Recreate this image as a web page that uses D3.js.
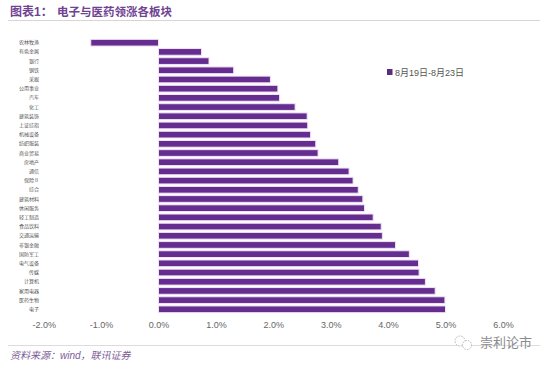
<!DOCTYPE html>
<html>
<head>
<meta charset="utf-8">
<script src="https://cdn.jsdelivr.net/npm/d3@7"></script>
<style>
    html, body { margin: 0; padding: 0; background: #fff; }
    svg { display: block; }
    text { font-family: "Liberation Sans", "Noto Sans CJK SC", sans-serif; }
</style>
</head>
<body>
<svg id="chart" width="550" height="367"></svg>
<script>
// values, top bar first
const sectors = [
    '农林牧渔', '有色金属', '银行', '钢铁', '采掘', '公用事业', '汽车', '化工',
    '建筑装饰', '上证综指', '机械设备', '纺织服装', '商业贸易', '房地产', '通信',
    '保险Ⅱ', '综合', '建筑材料', '休闲服务', '轻工制造', '食品饮料', '交通运输',
    '非银金融', '国防军工', '电气设备', '传媒', '计算机', '家用电器', '医药生物', '电子'
];
const changes = [
    -1.18, 0.75, 0.88, 1.31, 1.95, 2.08, 2.11, 2.38,
    2.59, 2.60, 2.65, 2.74, 2.78, 3.14, 3.32,
    3.39, 3.48, 3.56, 3.59, 3.74, 3.88, 3.90,
    4.13, 4.37, 4.53, 4.54, 4.65, 4.82, 4.99, 5.00
];
const xTicks = [-2, -1, 0, 1, 2, 3, 4, 5, 6];
const legendLabel = '8月19日-8月23日';

const svg = d3.select('#chart');
const purple = '#652d90';

const x = d3.scaleLinear().domain([-2, 6]).range([43.7, 502.9]);
const y = d3.scaleBand().domain(sectors).range([38.1, 313.9]).paddingInner(0.27).paddingOuter(0.135);

// header
svg.append('text').attr('x', 10).attr('y', 16)
    .attr('font-size', 12).attr('font-weight', 'bold').attr('fill', '#6f4391')
    .text('图表1：');
svg.append('text').attr('x', 57).attr('y', 16)
    .attr('font-size', 11.5).attr('font-weight', 'bold').attr('fill', '#6f4391')
    .text('电子与医药领涨各板块');
svg.append('line').attr('x1', 8).attr('x2', 540).attr('y1', 20.5).attr('y2', 20.5)
    .attr('stroke', '#d6d6d6');

// bars
svg.append('g').selectAll('rect')
    .data(sectors)
    .enter().append('rect')
    .attr('x', (d, i) => x(Math.min(0, changes[i])))
    .attr('y', d => y(d))
    .attr('width', (d, i) => Math.abs(x(changes[i]) - x(0)))
    .attr('height', y.bandwidth())
    .attr('fill', purple)
    .attr('stroke', '#f1e3f4')
    .attr('stroke-width', 1);

// category labels sit at the left, not on the zero line
const yAxis = svg.append('g')
    .attr('transform', 'translate(40,0)')
    .call(d3.axisLeft(y).tickSize(0).tickPadding(1));
yAxis.select('.domain').remove();
yAxis.selectAll('text').attr('font-size', 5).attr('fill', '#555');

const xAxis = svg.append('g')
    .attr('transform', 'translate(0,316)')
    .call(d3.axisBottom(x).tickValues(xTicks).tickSize(0).tickPadding(6)
        .tickFormat(d => d.toFixed(1) + '%'));
xAxis.select('.domain').remove();
xAxis.selectAll('text').attr('font-size', 9).attr('fill', '#666');

// legend
svg.append('rect').attr('x', 387).attr('y', 69).attr('width', 5.5).attr('height', 6)
    .attr('fill', '#5b2d82');
svg.append('text').attr('x', 395).attr('y', 75.5)
    .attr('font-size', 9).attr('fill', '#555')
    .text(legendLabel);

// footer
svg.append('line').attr('x1', 8).attr('x2', 540).attr('y1', 345.5).attr('y2', 345.5)
    .attr('stroke', '#dcdcdc');
svg.append('text').attr('x', 10).attr('y', 358.5)
    .attr('font-size', 10).attr('font-style', 'italic').attr('fill', '#7d6098')
    .text('资料来源：wind，联讯证券');

// watermark
const icon = svg.append('g').attr('fill', '#fff').attr('stroke', '#b5b5b5')
    .attr('stroke-dasharray', '1.5 1.2');
icon.append('circle').attr('cx', 460).attr('cy', 341).attr('r', 5);
icon.append('circle').attr('cx', 467).attr('cy', 345).attr('r', 4.5);
svg.append('text').attr('x', 480).attr('y', 347)
    .attr('font-size', 13).attr('fill', '#8a8a8a')
    .text('崇利论市');
</script>
</body>
</html>
